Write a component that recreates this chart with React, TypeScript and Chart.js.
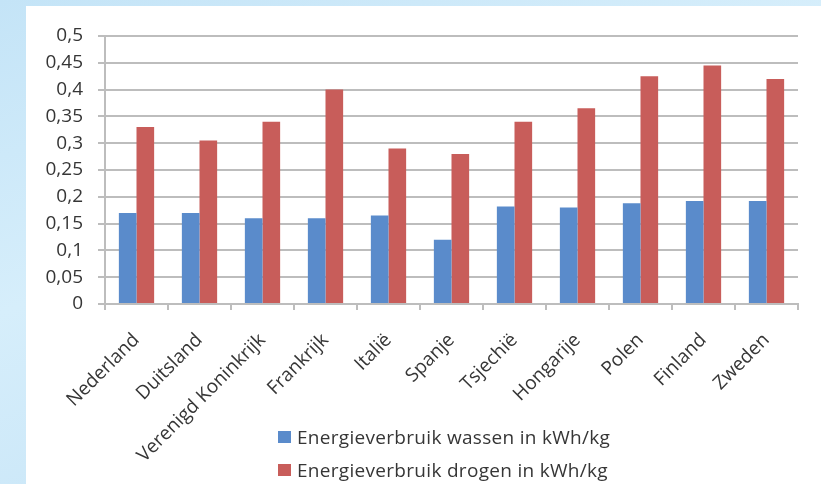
import React, { useEffect, useRef } from "react";
import { Chart, registerables } from "chart.js";

Chart.register(...registerables);

const categories = [
  "Nederland",
  "Duitsland",
  "Verenigd Koninkrijk",
  "Frankrijk",
  "Italië",
  "Spanje",
  "Tsjechië",
  "Hongarije",
  "Polen",
  "Finland",
  "Zweden",
];

const wassen = [0.17, 0.17, 0.16, 0.16, 0.165, 0.12, 0.182, 0.18, 0.188, 0.192, 0.192];
const drogen = [0.33, 0.305, 0.34, 0.4, 0.29, 0.28, 0.34, 0.365, 0.425, 0.445, 0.42];

const seriesLabels = [
  "Energieverbruik wassen in kWh/kg",
  "Energieverbruik drogen in kWh/kg",
];

const yTicks = [0, 0.05, 0.1, 0.15, 0.2, 0.25, 0.3, 0.35, 0.4, 0.45, 0.5];

const BLUE = "#5A8BCB";
const RED = "#C85D5A";
const GRID = "#BDBDBD";
const TEXT = "#363636";
const FONT = "'Open Sans', sans-serif";

export default function App() {
  const ref = useRef<HTMLCanvasElement | null>(null);

  useEffect(() => {
    document.body.style.margin = "0";
    const canvas = ref.current;
    if (!canvas) return;
    const chart = new Chart(canvas, {
      type: "bar",
      data: {
        labels: categories,
        datasets: [
          {
            label: seriesLabels[0],
            data: wassen,
            backgroundColor: BLUE,
            categoryPercentage: 0.56,
            barPercentage: 1,
          },
          {
            label: seriesLabels[1],
            data: drogen,
            backgroundColor: RED,
            categoryPercentage: 0.56,
            barPercentage: 1,
          },
        ],
      },
      options: {
        responsive: false,
        animation: false,
        layout: { padding: { left: 0, right: 23, top: 30, bottom: 0 } },
        plugins: {
          legend: { display: false },
          tooltip: { enabled: false },
        },
        scales: {
          x: {
            grid: {
              offset: true,
              drawOnChartArea: false,
              drawTicks: true,
              tickLength: 6,
              color: GRID,
              lineWidth: 2,
            },
            border: { color: GRID, width: 2 },
            ticks: {
              autoSkip: false,
              minRotation: 45,
              maxRotation: 45,
              padding: 19,
              color: TEXT,
              font: { family: FONT, size: 19 },
            },
            afterFit: (scale: any) => {
              scale.height = 180;
            },
          },
          y: {
            min: 0,
            max: 0.5,
            afterBuildTicks: (scale: any) => {
              scale.ticks = yTicks.map((v) => ({ value: v }));
            },
            grid: {
              color: GRID,
              lineWidth: 2,
              drawTicks: true,
              tickLength: 7,
            },
            border: { color: GRID, width: 2 },
            ticks: {
              padding: 15,
              color: TEXT,
              font: { family: FONT, size: 19 },
              callback: (v: any) => String(Number(v)).replace(".", ","),
            },
            afterFit: (scale: any) => {
              scale.width = 79;
            },
          },
        },
      },
    });
    return () => chart.destroy();
  }, []);

  const legendRow = (color: string, text: string, top: number) => (
    <div
      style={{
        position: "absolute",
        left: 252,
        top,
        display: "flex",
        alignItems: "center",
        fontFamily: FONT,
        fontSize: 19,
        letterSpacing: "0.3px",
        color: TEXT,
        whiteSpace: "nowrap",
      }}
    >
      <span
        style={{
          display: "inline-block",
          width: 13,
          height: 12,
          background: color,
          marginRight: 6,
        }}
      />
      <span>{text}</span>
    </div>
  );

  return (
    <div
      style={{
        position: "fixed",
        left: 0,
        top: 0,
        width: 821,
        height: 484,
        overflow: "hidden",
        background: "linear-gradient(160deg, #C4E4F7 0%, #D6EEFB 40%, #BFE0F5 100%)",
      }}
    >
      <div
        style={{
          position: "absolute",
          left: 26,
          top: 6,
          width: 795,
          height: 478,
          background: "#ffffff",
        }}
      >
        <canvas ref={ref} width={795} height={478} />
        {legendRow(BLUE, seriesLabels[0], 418)}
        {legendRow(RED, seriesLabels[1], 451)}
      </div>
    </div>
  );
}
